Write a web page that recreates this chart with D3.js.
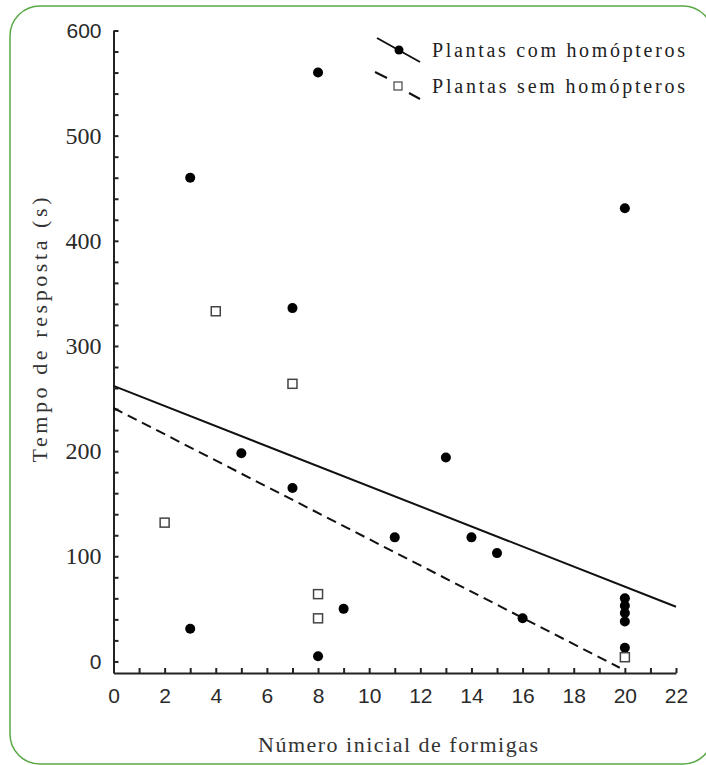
<!DOCTYPE html>
<html>
<head>
<meta charset="utf-8">
<script src="https://cdn.jsdelivr.net/npm/d3@7"></script>
<style>
  body { margin: 0; background: #fff; }
  .serif { font-family: "Liberation Serif", "Tinos", "Times New Roman", "Times", "Nimbus Roman", "Nimbus Roman No9 L", "FreeSerif", "DejaVu Serif", "Noto Serif", serif; }
  .sans { font-family: "Liberation Sans", Arial, sans-serif; }
</style>
</head>
<body>
<div id="chart"></div>
<script>
// valores
const comX = [3, 8, 7, 20, 5, 7, 11, 3, 9, 8, 13, 14, 15, 16, 20, 20, 20, 20, 20];
const comY = [460, 560, 336, 431, 198, 165, 118, 31, 50, 5, 194, 118, 103, 41, 60, 53, 46, 38, 13];
const semX = [4, 7, 2, 8, 8, 20];
const semY = [333, 264, 132, 64, 41, 4];
// retas de regressão (extremos)
const retaComX = [0, 22], retaComY = [262, 52];
const retaSemX = [0, 19.8], retaSemY = [241, -6];
const xTicks = [0, 2, 4, 6, 8, 10, 12, 14, 16, 18, 20, 22];
const yTicks = [0, 100, 200, 300, 400, 500, 600];
const legenda = ["Plantas com homópteros", "Plantas sem homópteros"];

(function () {
    let width = 706, height = 765;
    let svg = d3.select("#chart")
        .append("svg")
        .attr("width", width)
        .attr("height", height);

    // moldura verde
    svg.append("rect")
        .attr("x", 10).attr("y", 6)
        .attr("width", 703).attr("height", 758)
        .attr("rx", 30).attr("ry", 30)
        .attr("fill", "none")
        .attr("stroke", "#5aa845")
        .attr("stroke-width", 1.5);

    let x = d3.scaleLinear().domain([0, 22]).range([113.5, 676]);
    let y = d3.scaleLinear().domain([-11, 600]).range([673, 30.5]);

    // eixo x
    let gx = svg.append("g")
        .attr("transform", "translate(0,673)")
        .call(d3.axisBottom(x)
            .tickValues(d3.range(0, 23, 1))
            .tickSizeInner(-5).tickSizeOuter(0)
            .tickPadding(15)
            .tickFormat(d => xTicks.includes(d) ? d : ""));
    gx.attr("font-family", null);
    gx.selectAll("text")
        .attr("class", "sans")
        .style("font-size", "21px")
        .attr("fill", "#2a2a2a");

    // eixo y
    let gy = svg.append("g")
        .attr("transform", "translate(113.5,0)")
        .call(d3.axisLeft(y)
            .tickValues(d3.range(0, 601, 20))
            .tickSizeInner(-5).tickSizeOuter(0)
            .tickPadding(12)
            .tickFormat(d => yTicks.includes(d) ? d : ""));
    gy.attr("font-family", null);
    gy.selectAll("text")
        .attr("class", d => (d === 600 || d === 0) ? "sans" : "serif")
        .style("font-size", d => (d === 600 || d === 0) ? "21px" : "24px")
        .attr("fill", "#2a2a2a");

    svg.selectAll(".domain, .tick line")
        .attr("stroke", "#222")
        .attr("stroke-width", 2);

    // títulos dos eixos
    svg.append("text")
        .attr("class", "serif")
        .attr("x", 398).attr("y", 752)
        .attr("text-anchor", "middle")
        .style("font-size", "22px")
        .attr("fill", "#333")
        .attr("textLength", 280)
        .attr("lengthAdjust", "spacing")
        .text("Número inicial de formigas");
    svg.append("text")
        .attr("class", "serif")
        .attr("transform", "translate(47,330) rotate(-90)")
        .attr("text-anchor", "middle")
        .style("font-size", "22px")
        .attr("fill", "#333")
        .attr("textLength", 265)
        .attr("lengthAdjust", "spacing")
        .text("Tempo de resposta (s)");

    // retas
    let line = d3.line().x(d => x(d[0])).y(d => y(d[1]));
    svg.append("path")
        .attr("d", line(d3.zip(retaComX, retaComY)))
        .attr("fill", "none")
        .attr("stroke", "#111")
        .attr("stroke-width", 2);
    svg.append("path")
        .attr("d", line(d3.zip(retaSemX, retaSemY)))
        .attr("fill", "none")
        .attr("stroke", "#111")
        .attr("stroke-width", 2)
        .attr("stroke-dasharray", "10,6");

    // pontos
    svg.append("g")
        .selectAll("circle")
        .data(d3.zip(comX, comY))
        .enter()
        .append("circle")
        .attr("cx", d => x(d[0]))
        .attr("cy", d => y(d[1]))
        .attr("r", 5)
        .attr("fill", "#000");
    svg.append("g")
        .selectAll("rect")
        .data(d3.zip(semX, semY))
        .enter()
        .append("rect")
        .attr("x", d => x(d[0]) - 4.5)
        .attr("y", d => y(d[1]) - 4.5)
        .attr("width", 9)
        .attr("height", 9)
        .attr("fill", "#fff")
        .attr("stroke", "#444")
        .attr("stroke-width", 1.5);

    // legenda
    let lg = svg.append("g");
    lg.append("line")
        .attr("x1", 377).attr("y1", 38).attr("x2", 420).attr("y2", 62)
        .attr("stroke", "#111").attr("stroke-width", 2);
    lg.append("circle")
        .attr("cx", 399).attr("cy", 50).attr("r", 4.5).attr("fill", "#000");
    lg.append("line")
        .attr("x1", 375).attr("y1", 72).attr("x2", 387).attr("y2", 78)
        .attr("stroke", "#111").attr("stroke-width", 2);
    lg.append("line")
        .attr("x1", 409).attr("y1", 93).attr("x2", 420).attr("y2", 99)
        .attr("stroke", "#111").attr("stroke-width", 2);
    lg.append("rect")
        .attr("x", 394).attr("y", 82).attr("width", 8).attr("height", 8)
        .attr("fill", "#fff").attr("stroke", "#444").attr("stroke-width", 1.2);
    lg.selectAll("text")
        .data(legenda)
        .enter()
        .append("text")
        .attr("class", "serif")
        .attr("x", 432)
        .attr("y", (_, i) => 57 + i * 36)
        .style("font-size", "20px")
        .attr("fill", "#222")
        .attr("textLength", 253)
        .attr("lengthAdjust", "spacing")
        .text(d => d);
})()
</script>
</body>
</html>
